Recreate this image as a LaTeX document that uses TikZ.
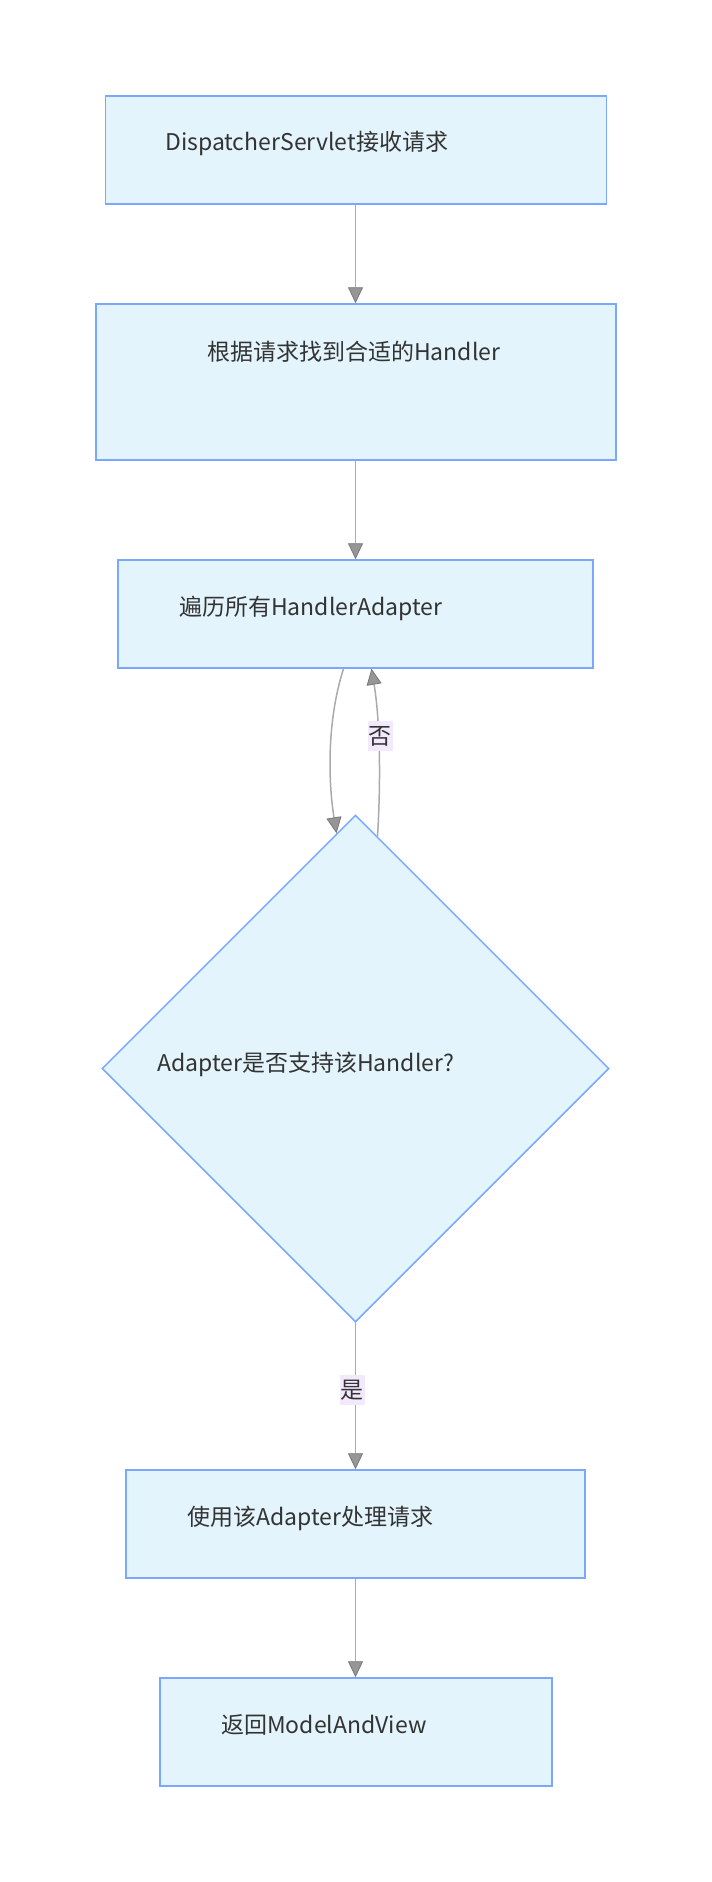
\documentclass[tikz,border=0pt]{standalone}
\usepackage{fontspec}
\setmainfont{Noto Sans CJK SC}
\usetikzlibrary{shapes.geometric,arrows.meta,calc}
\definecolor{boxfill}{RGB}{227,244,252}
\definecolor{boxline}{RGB}{122,168,255}
\definecolor{arrcol}{RGB}{170,170,170}
\definecolor{tipcol}{RGB}{150,150,150}
\definecolor{tipline}{RGB}{120,120,120}
\definecolor{lblfill}{RGB}{242,234,252}
\definecolor{txt}{RGB}{51,51,51}
\tikzset{
  box/.style={draw=boxline, fill=boxfill, line width=1.5pt, inner sep=0pt},
  lbl/.style={anchor=west, inner sep=0pt, text=txt, font=\fontsize{23}{27}\selectfont},
  arr/.style={draw=arrcol, line width=1.5pt, -{Triangle[length=16pt,width=15pt,fill=tipcol,color=tipline,line width=0.8pt]}},
  elbl/.style={fill=lblfill, inner xsep=1pt, inner ysep=5pt, text=txt, font=\fontsize{23}{27}\selectfont}
}
\begin{document}
\begin{tikzpicture}[x=1pt,y=-1pt]
\useasboundingbox (0,0) rectangle (712,1882);
\node[box, minimum width=501pt, minimum height=108pt] (b1) at (356,150) {};
\node[lbl] (t1) at (165,143) {DispatcherServlet接收请求};
\node[box, minimum width=520pt, minimum height=156pt] (b2) at (356,382) {};
\node[lbl] (t2) at (207,352) {根据请求找到合适的Handler};
\node[box, minimum width=475pt, minimum height=108pt] (b3) at (355.5,614) {};
\node[lbl] (t3) at (179,608) {遍历所有HandlerAdapter};
\node[box, shape=diamond, aspect=1, minimum width=507pt, minimum height=507pt] (d) at (355.5,1068.5) {};
\node[lbl] (t4) at (157,1064) {Adapter是否支持该Handler?};
\node[box, minimum width=459pt, minimum height=108pt] (b5) at (355.5,1524) {};
\node[lbl] (t5) at (187,1518) {使用该Adapter处理请求};
\node[box, minimum width=392pt, minimum height=108pt] (b6) at (356,1732) {};
\node[lbl] (t6) at (221,1725) {返回ModelAndView};
\coordinate (d1) at ([shift={(-19,19)}]d.north);
\coordinate (d2) at ([shift={(22,22)}]d.north);
\draw[arr] (b1.south -| d.north) -- (b2.north -| d.north);
\draw[arr] (b2.south -| d.north) -- (b3.north -| d.north);
\draw[arr] ([xshift=-12pt]b3.south) .. controls (327,720) and (328,780) .. (d1);
\draw[arr] (d2) .. controls (381,780) and (380,720) .. ([xshift=16pt]b3.south);
\node[elbl] (l1) at (380,736) {否};
\draw[arr] (d.south) -- (b5.north -| d.south);
\node[elbl] (l2) at (352,1390) {是};
\draw[arr] (b5.south -| d.north) -- (b6.north -| d.north);
\end{tikzpicture}
\end{document}
